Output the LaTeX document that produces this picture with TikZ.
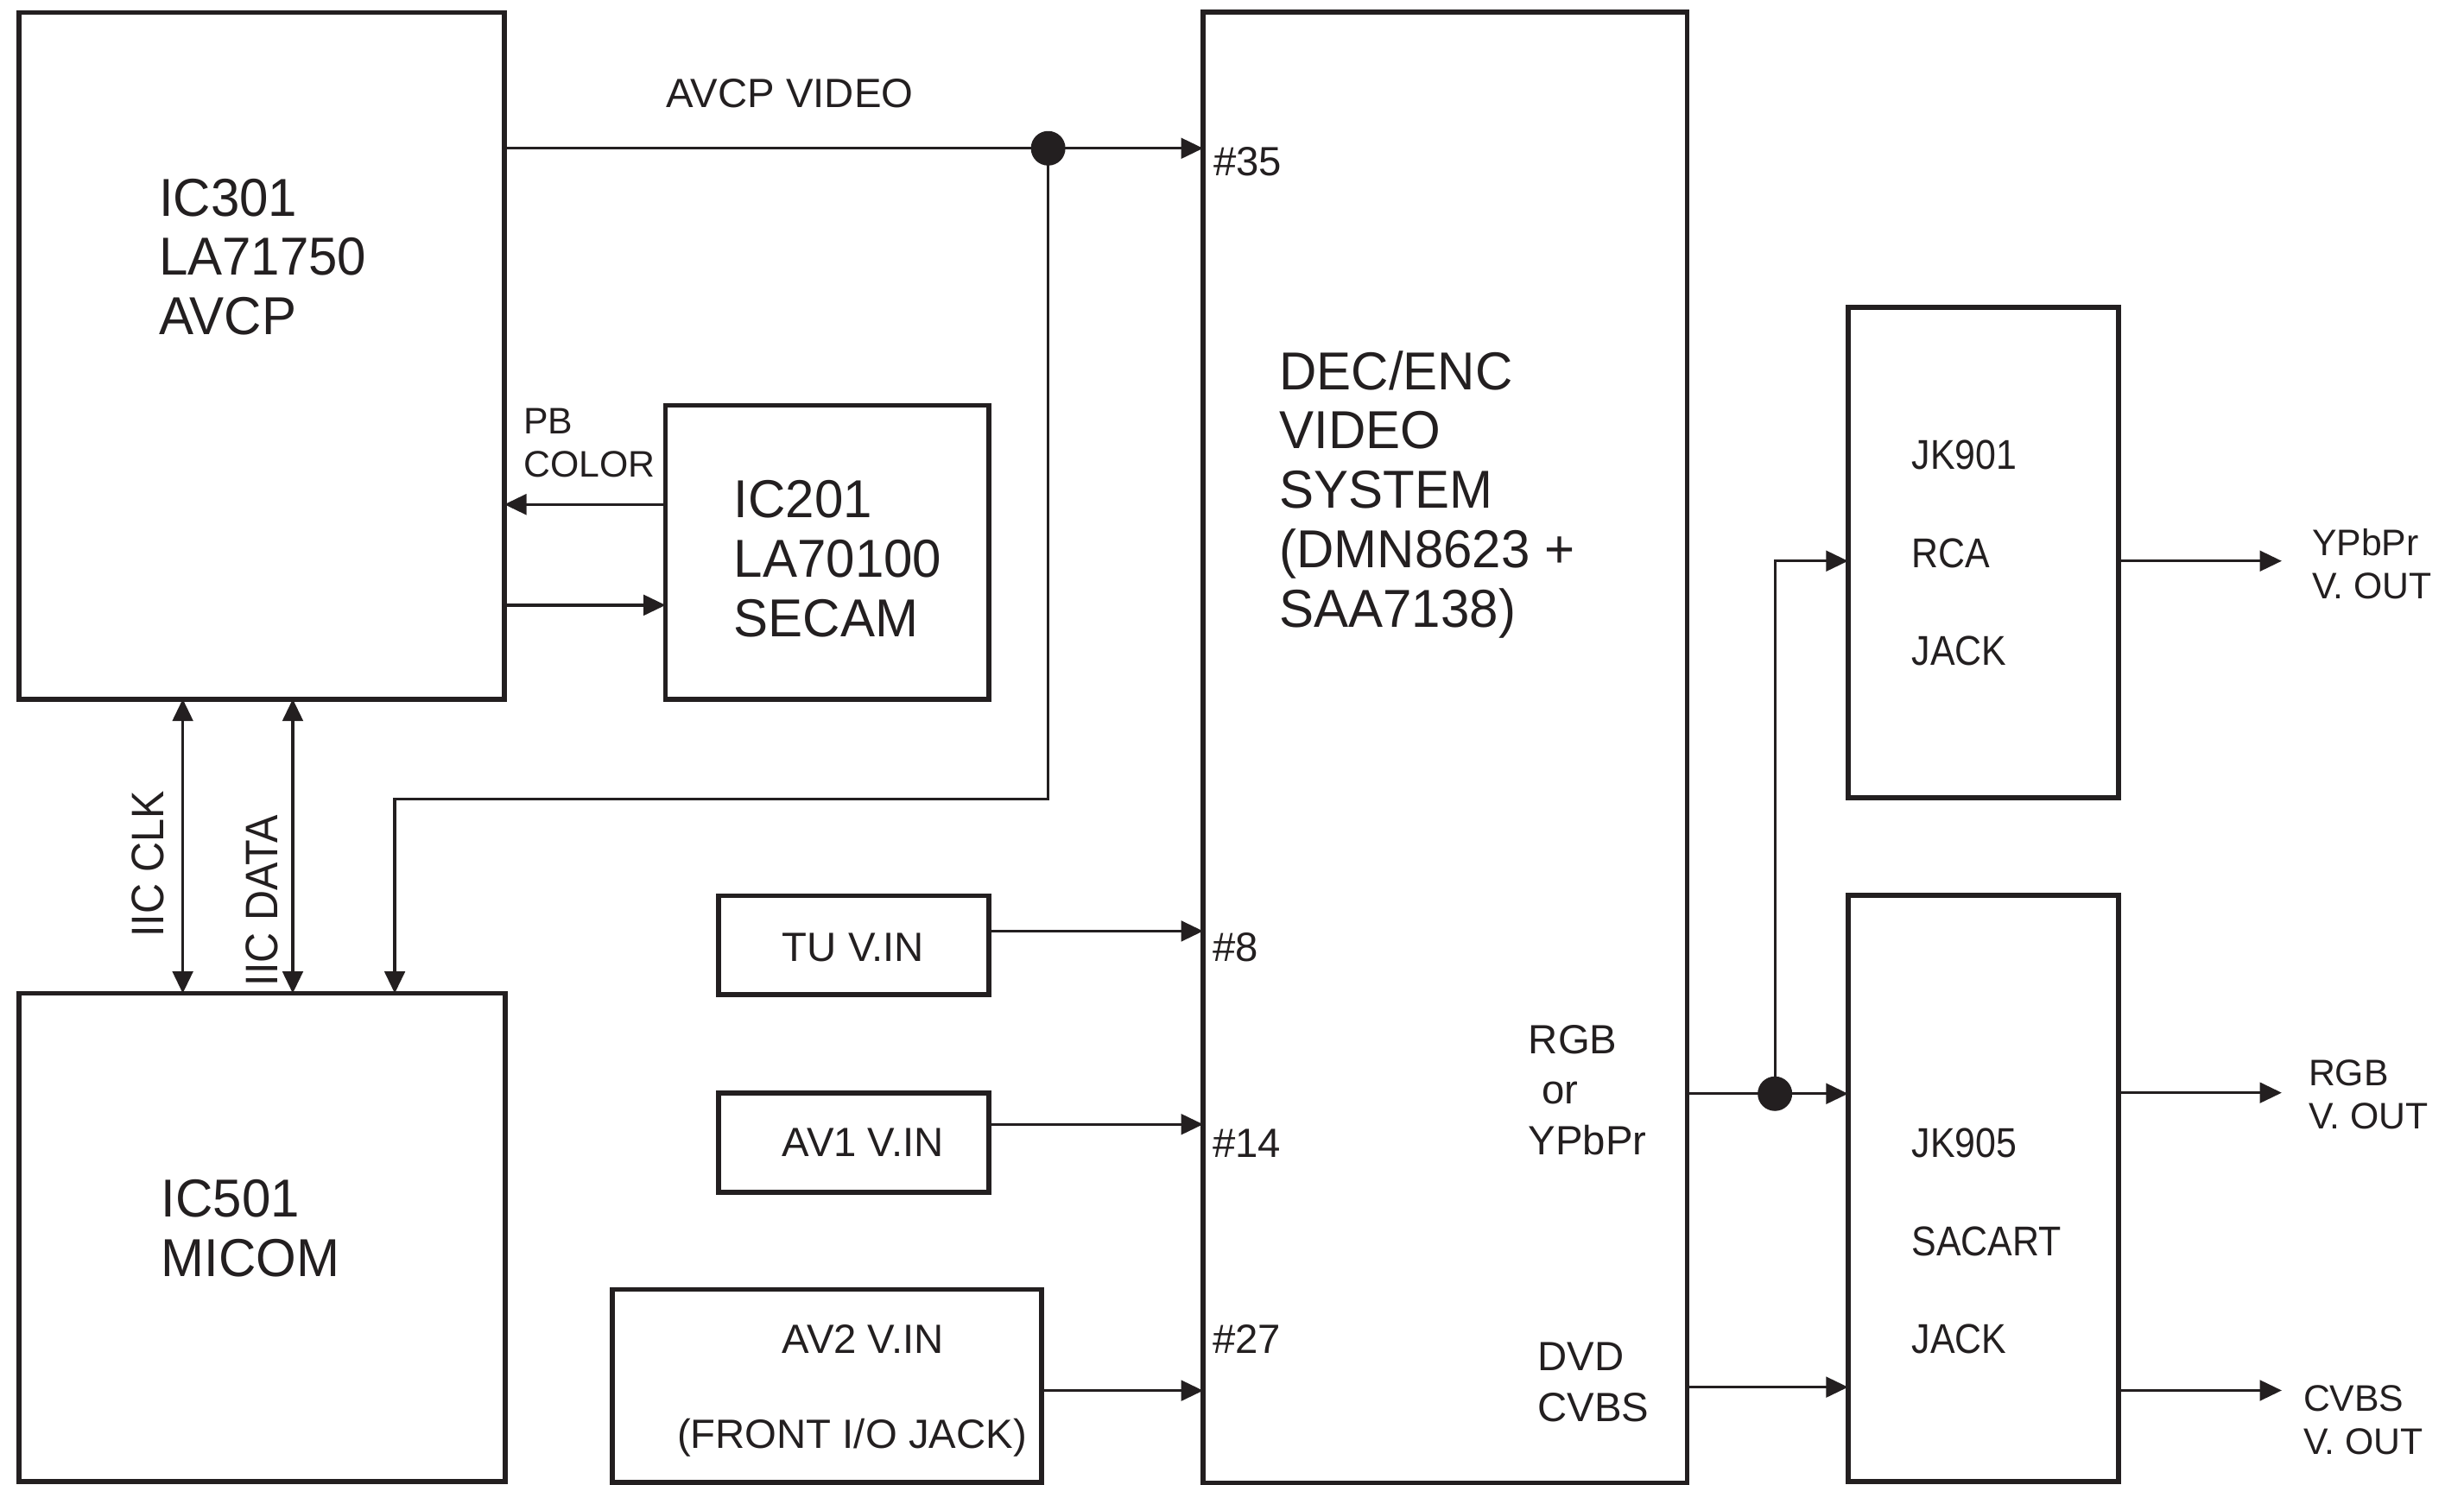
\documentclass[tikz,border=0pt]{standalone}
\usepackage{fontspec}
\setmainfont{Liberation Sans}
\newfontfamily\bigfont{Liberation Sans}[FakeStretch=0.97]
\newfontfamily\jkfont{Liberation Sans}[FakeStretch=0.89]
\newfontfamily\iicfont{Liberation Sans}[FakeStretch=0.92]
\usetikzlibrary{arrows.meta, positioning}
\definecolor{ink}{HTML}{231F20}

\begin{document}
\begin{tikzpicture}[x=1pt, y=-1pt, >={Triangle[length=14pt, width=13pt]}, ink,
    blk/.style={draw=ink, line width=3.2pt, inner sep=0pt, outer sep=0pt, anchor=north west},
    wire/.style={draw=ink, line width=1.8pt},
    dot/.style={circle, fill=ink, inner sep=0pt, minimum size=22pt},
    bigtxt/.style={font=\bigfont\fontsize{34}{37.8}\selectfont, align=left, anchor=base west, inner sep=0pt},
    midtxt/.style={font=\fontsize{26}{32.4}\selectfont, align=left, anchor=base west, inner sep=0pt},
    smalltxt/.style={font=\fontsize{23.5}{27.4}\selectfont, align=left, anchor=base west, inner sep=0pt},
    jktxt/.style={font=\jkfont\fontsize{26.5}{62.4}\selectfont, align=left, anchor=base west, inner sep=0pt}]
  \useasboundingbox (0,0) rectangle (1568,945);

  % Blocks
  \node[blk, minimum width=309pt, minimum height=437pt] (ic301) at (12,8) {};
  \node[blk, minimum width=206pt, minimum height=187pt] (ic201) at (423.5,258) {};
  \node[blk, minimum width=309pt, minimum height=311pt] (ic501) at (12.3,632.3) {};
  \node[blk, minimum width=172pt, minimum height=63pt] (tu) at (457.1,570.2) {};
  \node[blk, minimum width=172pt, minimum height=63pt] (av1) at (457.1,695.8) {};
  \node[blk, minimum width=273pt, minimum height=123pt] (av2) at (389.7,820.8) {};
  \node[blk, minimum width=308pt, minimum height=936pt] (dec) at (765.6,7.9) {};
  \node[blk, minimum width=172pt, minimum height=312pt] (jk901) at (1176,195.6) {};
  \node[blk, minimum width=172pt, minimum height=373pt] (jk905) at (1176,570.1) {};

  % Block texts (base = last line)
  \node[bigtxt] (t301) at (101,213) {IC301\\LA71750\\AVCP};
  \node[bigtxt] (t201) at (466.9,405.1) {IC201\\LA70100\\SECAM};
  \node[bigtxt] (t501) at (102.5,812.4) {IC501\\MICOM};
  \node[bigtxt] (tdec) at (814,399.1) {DEC/ENC\\VIDEO\\SYSTEM\\(DMN8623 +\\SAA7138)};
  \node[midtxt] (ttu) at (497.7,612) {TU V.IN};
  \node[midtxt] (tav1) at (497.7,736) {AV1 V.IN};
  \node[midtxt] (tav2) at (497.7,861.7) {AV2 V.IN};
  \node[midtxt] (tfront) at (430.7,922) {(FRONT I/O JACK)};
  \node[jktxt] (t901) at (1216.4,423.7) {JK901\\RCA\\JACK};
  \node[jktxt] (t905) at (1216.4,861.7) {JK905\\SACART\\JACK};

  % Pin numbers and signal names
  \node[midtxt] (p35) at (772,111.7) {\#35};
  \node[midtxt] (p8) at (771.6,611.9) {\#8};
  \node[midtxt] (p14) at (771.6,736.8) {\#14};
  \node[midtxt] (p27) at (771.6,861.7) {\#27};
  \node[midtxt] (lavcp) at (424,68.5) {AVCP VIDEO};
  \node[smalltxt] (lpb) at (333.1,303.8) {PB\\COLOR};
  \node[midtxt] (lrgb) at (972.5,735.3) {RGB\\\hspace*{8.7pt}or\\YPbPr};
  \node[midtxt] (ldvd) at (978.4,904.9) {DVD\\CVBS};
  \node[smalltxt] (lo1) at (1471.1,381.1) {YPbPr\\V. OUT};
  \node[smalltxt] (lo2) at (1468.9,718.5) {RGB\\V. OUT};
  \node[smalltxt] (lo3) at (1465.6,925.7) {CVBS\\V. OUT};
  \node[font=\iicfont\fontsize{29}{29}\selectfont, rotate=90, anchor=base west, inner sep=0pt] (lclk) at (104.4,597) {IIC CLK};
  \node[font=\iicfont\fontsize{29}{29}\selectfont, rotate=90, anchor=base west, inner sep=0pt] (ldata) at (176.8,628) {IIC DATA};

  % Junctions
  \node[dot] (d1) at (667,94.4) {};
  \node[dot] (d2) at (1129.5,696.2) {};
  \coordinate (bend) at (665.4,508.7);
  \coordinate (micin) at (251.2,632.3);
  \coordinate (o1) at (1452,357.1);
  \coordinate (o2) at (1452,695.6);
  \coordinate (o3) at (1452,885.1);

  % AVCP video path
  \draw[wire] (ic301.east |- d1) -- (d1.center);
  \draw[wire, ->] (d1.center) -- (dec.west |- d1);
  \draw[wire, ->] (d1.center) |- (micin |- bend) -- (micin);
  \draw[wire, ->] (ic201.west |- 0,321.1) -- (ic301.east |- 0,321.1);
  \draw[wire, ->] (ic301.east |- 0,385.2) -- (ic201.west |- 0,385.2);

  % IIC bus
  \draw[wire, <->] (ic301.south -| 116.3,0) -- (ic501.north -| 116.3,0);
  \draw[wire, <->] (ic301.south -| 186.3,0) -- (ic501.north -| 186.3,0);

  % Video inputs
  \draw[wire, ->] (tu.east |- 0,592.7) -- (dec.west |- 0,592.7);
  \draw[wire, ->] (av1.east |- 0,715.7) -- (dec.west |- 0,715.7);
  \draw[wire, ->] (av2.east |- 0,885.2) -- (dec.west |- 0,885.2);

  % Outputs
  \draw[wire] (dec.east |- d2) -- (d2.center);
  \draw[wire, ->] (d2.center) -- (jk905.west |- d2);
  \draw[wire, ->] (d2.center) |- (jk901.west |- o1);
  \draw[wire, ->] (dec.east |- 0,883) -- (jk905.west |- 0,883);
  \draw[wire, ->] (jk901.east |- o1) -- (o1);
  \draw[wire, ->] (jk905.east |- o2) -- (o2);
  \draw[wire, ->] (jk905.east |- o3) -- (o3);
\end{tikzpicture}
\end{document}
